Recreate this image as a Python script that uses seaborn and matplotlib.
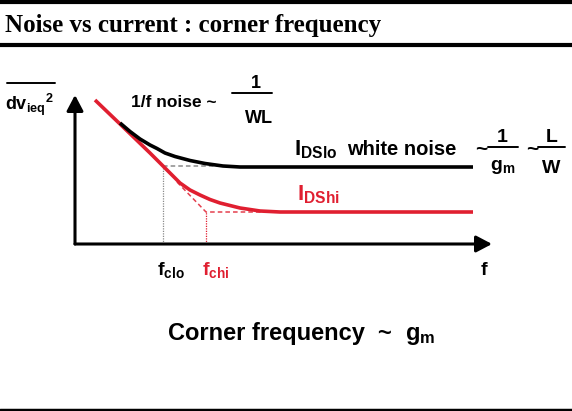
import numpy as np
import pandas as pd
import seaborn as sns
import matplotlib.pyplot as plt
from matplotlib.lines import Line2D

# noise curves (arbitrary units, frequency 0..417, noise 0..149)
f_black = [45, 55, 65, 75, 82, 90, 100, 115, 130, 148, 165, 398]
noise_lo = [121, 112.5, 105, 99, 95.5, 91, 87.5, 83.5, 80.5, 78, 77, 77]
f_red = [20, 45, 75, 90, 105, 115, 125, 135, 145, 165, 185, 205, 398]
noise_hi = [144, 120, 91, 76, 61, 54, 49, 44.5, 41, 36, 33, 32, 32]

# asymptotes and corner frequencies
f_clo, f_chi = 88, 131
white_lo, white_hi = 78, 32
black_asym_f = [88, 147]
black_asym_n = [78, 78]
red_asym_f = [102, 131, 187]
red_asym_n = [62, 32, 32]

RED = '#e01f30'
GREY = '#8a8a8a'
W, H = 572, 411

sns.set_style('white')
plt.rcParams['font.family'] = ['Liberation Sans', 'DejaVu Sans']
plt.rcParams['font.weight'] = 'bold'
plt.rcParams['text.color'] = 'black'
plt.rcParams['mathtext.fontset'] = 'custom'
plt.rcParams['mathtext.rm'] = 'Liberation Sans:bold'
plt.rcParams['mathtext.it'] = 'Liberation Sans:bold'
plt.rcParams['mathtext.bf'] = 'Liberation Sans:bold'

fig = plt.figure(figsize=(W / 100, H / 100), dpi=100)
ax = fig.add_axes([75 / W, 1 - 244 / H, 417 / W, 149 / H])
ax.set_xlim(0, 417)
ax.set_ylim(0, 149)
ax.axis('off')

lo = pd.DataFrame({'f': f_black, 'noise': noise_lo})
hi = pd.DataFrame({'f': f_red, 'noise': noise_hi})

# asymptote guides
ax.plot(black_asym_f, black_asym_n, color=GREY, lw=1.1, ls=(0, (3, 2)), clip_on=False)
ax.plot([f_clo, f_clo], [0, white_lo], color=GREY, lw=0.9, ls=(0, (1, 1)), clip_on=False)
ax.plot(red_asym_f, red_asym_n, color=RED, lw=1.1, ls=(0, (3, 2)), alpha=0.85, clip_on=False)
ax.plot([f_chi, f_chi], [0, white_hi], color=RED, lw=0.9, ls=(0, (1, 1)), clip_on=False)

sns.lineplot(data=hi, x='f', y='noise', ax=ax, color=RED, linewidth=2.6,
             sort=False, estimator=None, legend=False)
sns.lineplot(data=lo, x='f', y='noise', ax=ax, color='black', linewidth=2.6,
             sort=False, estimator=None, legend=False)
for l in ax.lines:
    l.set_clip_on(False)
    l.set_solid_capstyle('butt')

# axes arrows
arrow = dict(arrowstyle='-|>,head_length=0.95,head_width=0.5', color='black',
             lw=2.2, shrinkA=0, shrinkB=0)
ax.annotate('', xy=(1, 0), xytext=(0, 0), xycoords='axes fraction', arrowprops=arrow)
ax.annotate('', xy=(0, 1), xytext=(0, 0), xycoords='axes fraction', arrowprops=arrow)


def ftext(x, y, s, **kw):
    kw.setdefault('va', 'baseline')
    fig.text(x / W, 1 - y / H, s, **kw)


def hline(x0, x1, y, lw, color='black'):
    fig.add_artist(Line2D([x0 / W, x1 / W], [1 - y / H, 1 - y / H],
                          transform=fig.transFigure, color=color, lw=lw))


# slide title and rules
hline(0, W, 2, 3)
hline(0, W, 44.7, 3)
hline(0, W, 409.5, 2.5)
ftext(5, 32, 'Noise vs current : corner frequency', family='Liberation Serif',
      weight='bold', size=18)

# y label with overline
ftext(5, 110, r'${\mathrm{dv}_{\mathrm{ieq}}}^{2}$', size=13)
hline(7, 55, 83, 1.4)

# 1/f noise
ftext(131, 107, '1/f noise ~', size=12.5)
ftext(256, 88, '1', size=13, ha='center')
hline(232, 272, 93, 1.4)
ftext(259, 123, 'WL', size=13, ha='center')

# white noise
ftext(294, 155, r'$\mathrm{I}_{\mathrm{DSlo}}$', size=16)
ftext(347, 155, 'white noise', size=14.5)
ftext(481, 155, '~', size=15, ha='center')
ftext(502, 142, '1', size=14, ha='center')
hline(488, 518, 147, 1.4)
ftext(503, 170, r'$\mathrm{g}_{\mathrm{m}}$', size=14, ha='center')
ftext(532, 155, '~', size=15, ha='center')
ftext(552, 142, 'L', size=14, ha='center')
hline(538, 565, 147, 1.4)
ftext(551, 173, 'W', size=14, ha='center')

ftext(297, 200, r'$\mathrm{I}_{\mathrm{DShi}}$', size=16, color=RED)

# frequency labels
ftext(157, 275, r'$\mathrm{f}_{\mathrm{clo}}$', size=14)
ftext(202, 275, r'$\mathrm{f}_{\mathrm{chi}}$', size=14, color=RED)
ftext(481, 275, 'f', size=14)

# bottom statement
ftext(168, 340, 'Corner frequency', size=17)
ftext(384, 340, '~', size=17, ha='center')
ftext(405, 340, r'$\mathrm{g}_{\mathrm{m}}$', size=17)

fig.savefig('out.png', dpi=100)
